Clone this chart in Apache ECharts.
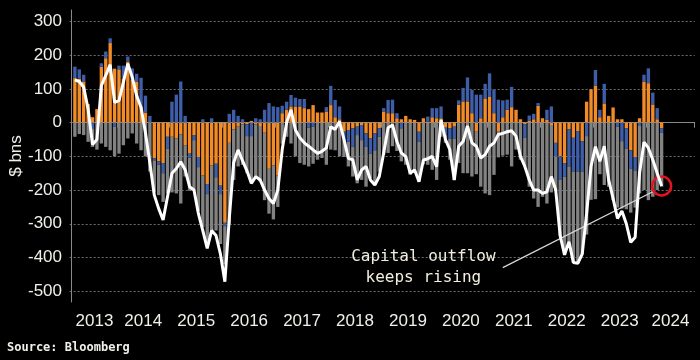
<!DOCTYPE html>
<html>
<head>
<meta charset="utf-8">
<script src="https://cdn.jsdelivr.net/npm/echarts/dist/echarts.min.js"></script>
<style>
html,body{margin:0;padding:0;background:#000;}
#chart{width:700px;height:360px;}
</style>
</head>
<body>
<div id="chart"></div>
<script>
// Months on the axis: Mar 2013 .. Nov 2024 (data ends Apr 2024)
const startYear = 2013, startMonth = 3, axisMonths = 141;
const years = ['2013','2014','2015','2016','2017','2018','2019','2020','2021','2022','2023','2024'];
const yTicks = [-500,-400,-300,-200,-100,0,100,200,300];

// Monthly components ($ bns), Mar 2013 .. Apr 2024
const orange = [132,130,122,55,16,40,166,191,236,160,
158,130,181,127,122,48,30,0,-106,-115,
-120,-42,-42,-47,-35,-67,-92,-37,-102,-157,
-182,-127,-122,-187,-297,-60,-20,-12,-5,-5,
5,-5,-10,-30,-137,-127,-157,28,38,48,
48,48,43,40,52,30,30,33,52,16,
10,-27,-22,-17,-12,-7,-32,-47,-32,-17,
33,28,28,13,10,20,10,8,-27,13,
3,16,13,13,-15,-17,-12,53,63,63,
28,-27,13,72,76,28,-27,16,38,46,
38,10,-5,5,10,50,13,8,-7,-60,
-100,-120,-20,-45,-25,-55,62,99,110,16,
57,20,45,10,10,-17,-82,-102,13,122,
117,54,10,-17];
const blue = [34,28,20,0,-17,0,10,20,14,-12,
11,39,15,34,23,85,50,20,-6,-10,
-30,-35,62,83,122,20,-12,-15,-30,10,
-30,13,-40,-25,-10,26,38,20,10,-35,
-40,13,10,38,58,48,46,22,24,34,
26,22,27,-15,-12,0,0,13,57,51,
38,-25,-35,-55,-25,-45,-40,-45,-50,-25,
10,39,40,15,-17,0,0,0,-30,0,
15,27,30,35,-20,-30,-35,13,40,71,
69,83,70,43,70,70,68,50,30,60,
0,0,-40,16,16,8,0,30,48,-40,
-70,-40,-110,-100,-120,-90,-40,0,46,22,
58,0,0,-12,-55,-60,-55,-40,-10,20,
44,35,33,-13];
const grey = [-42,-34,-37,-57,-55,-80,-62,-72,-82,-88,
-92,-67,-47,-32,-62,-82,-100,-145,-93,-90,
-85,-133,-165,-163,-205,-93,-98,-148,-130,-153,
-150,-203,-158,-148,-113,-240,-150,-118,-120,-110,
-135,-160,-165,-200,-133,-160,-93,-62,-42,-62,
-100,-120,-125,-115,-110,-110,-105,-125,-80,-82,
-100,-50,-73,-88,-143,-118,-118,-73,-103,-103,
-95,-90,-70,-84,-98,-125,-155,-148,-118,-124,
-125,-140,-170,-42,-25,-63,-123,-120,-150,-150,
-160,-126,-190,-210,-215,-155,-76,-98,-95,-130,
-80,-110,-85,-190,-225,-250,-220,-240,-200,-100,
-165,-232,-223,-270,-272,-245,-292,-229,-227,-153,
-185,-190,-230,-240,-200,-180,-130,-110,-200,-200,
-230,-220,-200,-160];
const net = [127,122,105,40,-65,-50,110,140,172,60,
65,120,175,135,80,45,-30,-120,-215,-255,
-289,-220,-150,-136,-116,-140,-190,-200,-270,-320,
-373,-320,-335,-390,-472,-285,-118,-81,-113,-143,
-180,-160,-170,-200,-225,-240,-200,-80,0,38,
-22,-45,-60,-70,-81,-91,-85,-75,-12,-20,
3,-50,-106,-110,-170,-140,-130,-170,-185,-160,
-90,-15,-7,-56,-90,-101,-150,-140,-175,-111,
-107,-100,-131,8,-50,-80,-170,-70,-56,-10,
-60,-70,-105,-95,-70,-60,-35,-32,-27,-24,
-40,-100,-130,-170,-200,-200,-210,-205,-160,-200,
-335,-392,-353,-415,-417,-390,-270,-130,-71,-115,
-70,-170,-225,-284,-262,-300,-355,-340,-150,-58,
-75,-110,-150,-188];

const annotationText = 'Capital outflow\nkeeps rising';
const annotationAt = ['2019-10', -430];
const pointerFrom = ['2021-04', -430];
const pointerTo = ['2024-02', -205];
const sourceText = 'Source: Bloomberg';

const months = [];
for (let k = 0; k < axisMonths; k++) {
  const t = (startMonth - 1) + k;
  months.push((startYear + Math.floor(t / 12)) + '-' + String(t % 12 + 1).padStart(2, '0'));
}
const lastIdx = orange.length - 1;
const lastPoint = [months[lastIdx], net[lastIdx]];

const txt = '#f0f0ea';
const axisCol = '#8a8a8a';
const labelFont = 'Liberation Sans';
function labelMonth(y) { return y === years[years.length - 1] ? '06' : '07'; }

const chart = echarts.init(document.getElementById('chart'), null, {renderer: 'canvas'});
const gridL = 69.67, gridR = 5.3;
chart.setOption({
  backgroundColor: '#000',
  animation: false,
  grid: [
    {left: gridL, right: gridR, top: 10, bottom: 58},
    {left: gridL, right: gridR, top: 21.46, bottom: 68.79}
  ],
  xAxis: [
    {
      type: 'category', gridIndex: 0, data: months, boundaryGap: true,
      axisLine: {show: true, lineStyle: {color: axisCol, width: 1}},
      axisTick: {show: true, length: 5, interval: (i, v) => v.endsWith('-01'), lineStyle: {color: axisCol}},
      axisLabel: {
        show: true, margin: 11, color: txt, fontSize: 17, fontFamily: labelFont,
        interval: (i, v) => years.includes(v.slice(0, 4)) && v.slice(5) === labelMonth(v.slice(0, 4)),
        formatter: (v) => {
          const y = v.slice(0, 4);
          if (y === years[0]) return '{f|' + y + '}';
          if (y === years[years.length - 1]) return '{l|' + y + '}';
          return '{m|' + y + '}';
        },
        rich: {
          f: {padding: [0, 0, 0, 3.8], fontSize: 17, color: txt, fontFamily: labelFont},
          m: {padding: [0, 4.4, 0, 0], fontSize: 17, color: txt, fontFamily: labelFont},
          l: {fontSize: 17, color: txt, fontFamily: labelFont}
        }
      },
      splitLine: {show: false}
    },
    {type: 'category', gridIndex: 1, data: months, show: false}
  ],
  yAxis: [
    {
      type: 'value', gridIndex: 0, min: -532, max: 334, offset: 1.67,
      axisLine: {show: true, lineStyle: {color: axisCol, width: 1}},
      axisTick: {show: false}, axisLabel: {show: false}, splitLine: {show: false},
      name: '$ bns', nameLocation: 'middle', nameRotate: 90, nameGap: 46,
      nameTextStyle: {color: txt, fontSize: 17, fontFamily: labelFont}
    },
    {
      type: 'value', gridIndex: 1, min: yTicks[0], max: yTicks[yTicks.length - 1], interval: 100, offset: 1.67,
      axisLine: {show: false}, axisTick: {show: false},
      axisLabel: {color: txt, fontSize: 17, fontFamily: labelFont, margin: 6},
      splitLine: {show: true, lineStyle: {color: '#6e6e6e', width: 1, type: [2, 2]}}
    }
  ],
  series: [
    {
      name: 'orange', type: 'bar', stack: 'flows', xAxisIndex: 0, yAxisIndex: 0,
      data: orange, itemStyle: {color: '#f28c28'}, barCategoryGap: '24%', silent: true
    },
    {
      name: 'blue', type: 'bar', stack: 'flows', xAxisIndex: 0, yAxisIndex: 0,
      data: blue, itemStyle: {color: '#3e5ea8'}, barCategoryGap: '24%', silent: true
    },
    {
      name: 'grey', type: 'bar', stack: 'flows', xAxisIndex: 0, yAxisIndex: 0,
      data: grey, itemStyle: {color: '#828282'}, barCategoryGap: '24%', silent: true
    },
    {
      name: 'net', type: 'line', xAxisIndex: 0, yAxisIndex: 0, data: net,
      symbol: 'none', z: 5, silent: true,
      lineStyle: {color: '#ffffff', width: 3},
      markLine: {
        silent: true, symbol: ['none', 'none'], label: {show: false},
        lineStyle: {color: '#d8d8d8', width: 1.2, type: 'solid'},
        data: [[{coord: pointerFrom}, {coord: pointerTo}]]
      },
      markPoint: {
        silent: true,
        data: [
          {coord: lastPoint, symbol: 'circle', symbolSize: 19,
           itemStyle: {color: 'rgba(0,0,0,0)', borderColor: '#e3141b', borderWidth: 2.5},
           label: {show: false}},
          {coord: annotationAt, symbol: 'circle', symbolSize: 1,
           itemStyle: {color: 'rgba(0,0,0,0)'},
           label: {show: true, position: 'inside', formatter: annotationText,
                   color: '#f3efe0', fontSize: 16, fontFamily: 'DejaVu Sans Mono',
                   lineHeight: 21, align: 'center', verticalAlign: 'middle'}}
        ]
      }
    }
  ],
  graphic: [
    {type: 'text', left: 7, top: 342, silent: true,
     style: {text: sourceText, fill: txt, font: 'bold 12px "DejaVu Sans Mono"'}}
  ]
});
</script>
</body>
</html>
